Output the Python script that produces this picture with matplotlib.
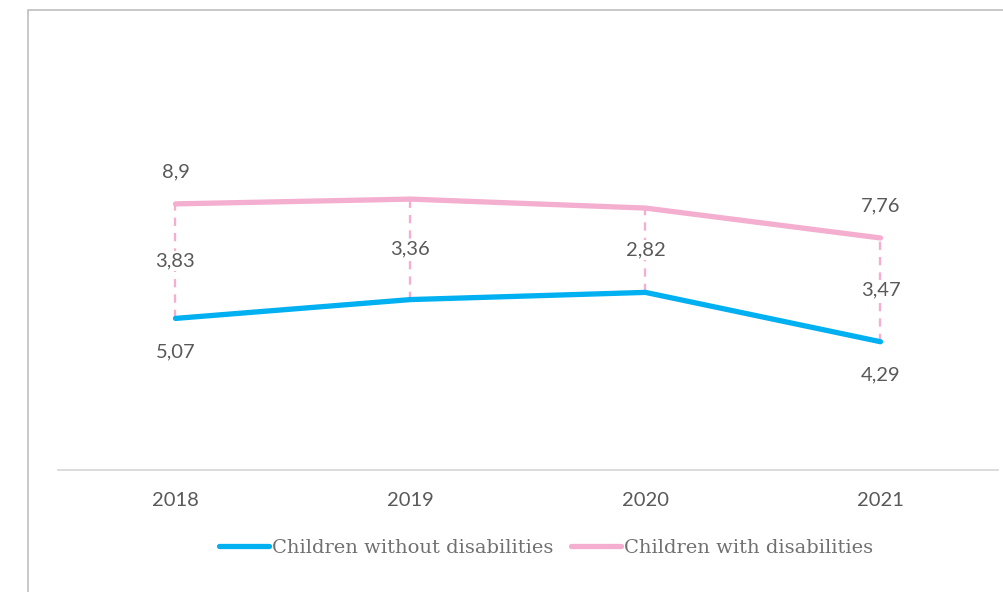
import matplotlib.pyplot as plt
from matplotlib import font_manager
from matplotlib.patches import Rectangle

# values
years = ['2018', '2019', '2020', '2021']
without_dis = [5.07, 5.70, 5.94, 4.29]
with_dis = [8.90, 9.06, 8.76, 7.76]
gap_labels = ['3,83', '3,36', '2,82', '3,47']
without_labels = ['5,07', '', '', '4,29']
with_labels = ['8,9', '', '', '7,76']

blue = '#00B0F0'
pink = '#F4AECF'
grey_txt = '#595959'

# slab-ish serif for the legend, condensed if we have it
installed = {f.name for f in font_manager.fontManager.ttflist}
if 'DejaVu Serif Condensed' in installed:
    leg_family, leg_size = 'DejaVu Serif Condensed', 15
else:
    leg_family, leg_size = 'DejaVu Serif', 14

W, H = 1004, 592
fig = plt.figure(figsize=(W / 100, H / 100), dpi=100)

# outer chart frame (runs off the right and bottom edge)
fig.patches.append(Rectangle((28 / W, -0.2), 1.2, (H - 10) / H + 0.2, transform=fig.transFigure,
                             fill=False, edgecolor='#BFBFBF', linewidth=1.2))

# plot area: x 58..998 px, y-zero at 470 px, 29.9 px per unit
ymax = 14
ax = fig.add_axes([58 / W, (H - 470) / H, 940 / W, ymax * 29.9 / H])
x = list(range(len(years)))
ax.set_xlim(-0.5, len(years) - 0.5)
ax.set_ylim(0, ymax)

# high-low lines
ax.vlines(x, without_dis, with_dis, colors=pink, linestyles=(0, (3.5, 3)), linewidth=1.7, zorder=1)

ax.plot(x, without_dis, color=blue, linewidth=3.8, solid_capstyle='round',
        label='Children without disabilities', zorder=3)
ax.plot(x, with_dis, color=pink, linewidth=3.8, solid_capstyle='round',
        label='Children with disabilities', zorder=3)

lab_font = dict(family='Lato', fontsize=14.5, color=grey_txt)
for i in x:
    mid = (without_dis[i] + with_dis[i]) / 2
    ax.text(i, mid, gap_labels[i], ha='center', va='center', zorder=2,
            bbox=dict(facecolor='white', edgecolor='none', pad=1), **lab_font)
    if with_labels[i]:
        ax.annotate(with_labels[i], (i, with_dis[i]), xytext=(0, 23), textcoords='offset points',
                    ha='center', va='center', **lab_font)
    if without_labels[i]:
        ax.annotate(without_labels[i], (i, without_dis[i]), xytext=(0, -24), textcoords='offset points',
                    ha='center', va='center', **lab_font)

for s in ['top', 'right', 'left']:
    ax.spines[s].set_visible(False)
ax.spines['bottom'].set_color('#D9D9D9')
ax.spines['bottom'].set_linewidth(1.3)
ax.set_yticks([])
ax.set_xticks(x)
ax.set_xticklabels(years, fontfamily='Lato', fontsize=14.5, color=grey_txt)
ax.tick_params(axis='x', length=0, pad=16)

fig.legend(loc='center', bbox_to_anchor=(546 / W, (H - 548) / H), ncol=2, frameon=False,
           prop=dict(family=leg_family, size=leg_size), labelcolor='#707070',
           handlelength=2.6, handletextpad=0.15, columnspacing=0.9)

fig.savefig('out.png', dpi=100)
